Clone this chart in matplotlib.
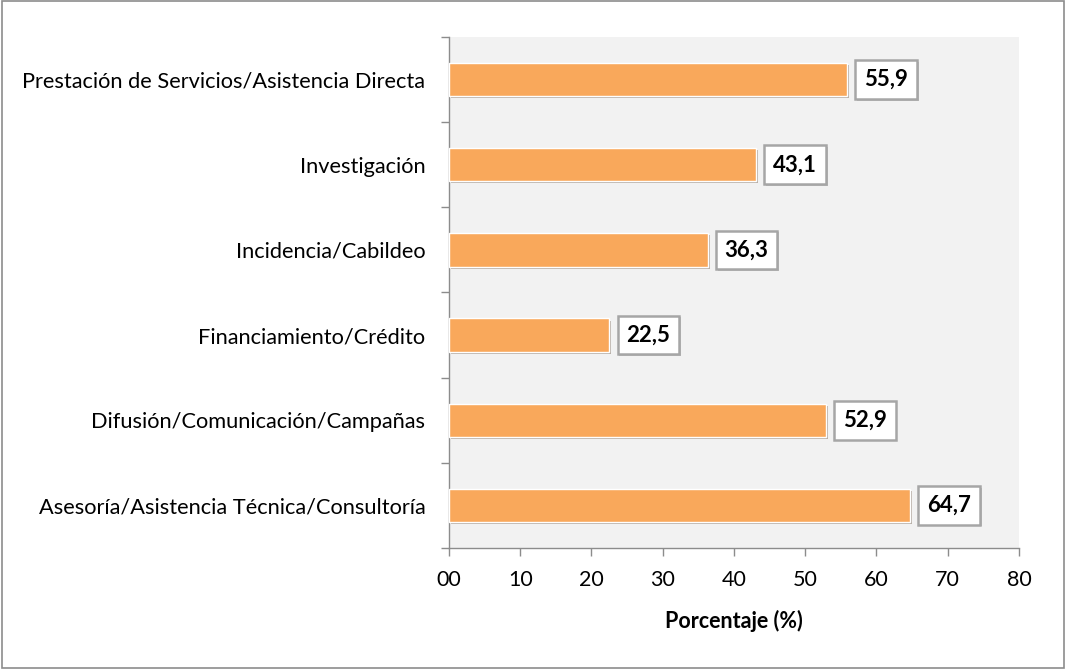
import matplotlib
matplotlib.use("Agg")
import matplotlib.pyplot as plt
import matplotlib.patheffects as pe
import numpy as np

categories = [
    "Asesoría/Asistencia Técnica/Consultoría",
    "Difusión/Comunicación/Campañas",
    "Financiamiento/Crédito",
    "Incidencia/Cabildeo",
    "Investigación",
    "Prestación de Servicios/Asistencia Directa",
]
values = [64.7, 52.9, 22.5, 36.3, 43.1, 55.9]
value_labels = ["64,7", "52,9", "22,5", "36,3", "43,1", "55,9"]
xticks = [0, 10, 20, 30, 40, 50, 60, 70, 80]
xtick_labels = ["00", "10", "20", "30", "40", "50", "60", "70", "80"]

plt.rcParams['font.family'] = ['Lato', 'DejaVu Sans']

fig = plt.figure(figsize=(10.66, 6.69), dpi=100)
fig.patch.set_facecolor("white")
border = plt.Rectangle((0.002, 0.002), 0.996, 0.996, transform=fig.transFigure,
                       fill=False, edgecolor="#8c8c8c", linewidth=1.2)
fig.patches.append(border)

ax = fig.add_axes([0.4212, 0.1809, 0.5347, 0.7638])
ax.set_facecolor("#f2f2f2")

y = np.arange(len(categories))
bars = ax.barh(y, values, height=0.39, color="#f9a85b", edgecolor="white",
               linewidth=1.0, zorder=3)
for b in bars:
    b.set_path_effects([pe.SimplePatchShadow(offset=(1.5, -1.5), alpha=0.35), pe.Normal()])

for yi, v, lab in zip(y, values, value_labels):
    t = ax.text(v + 2.4, yi, lab, va="center", ha="left", fontsize=16, fontweight="bold",
                color="black", zorder=5,
                bbox=dict(boxstyle="square,pad=0.4", facecolor="white", edgecolor="#a6a6a6",
                          linewidth=1.8))
    t.get_bbox_patch().set_path_effects([pe.SimplePatchShadow(offset=(1.2, -1.2), alpha=0.3), pe.Normal()])

ax.set_xlim(0, 80)
ax.set_ylim(-0.5, len(categories) - 0.5)
ax.set_xticks(xticks)
ax.set_xticklabels(xtick_labels, fontsize=15.5)
ax.set_yticks(y)
ax.set_yticklabels(categories, fontsize=15.7)
ax.tick_params(axis="y", length=0, pad=17)
ax.set_yticks(np.arange(-0.5, len(categories), 1.0), minor=True)
ax.tick_params(axis="y", which="minor", length=6, color="#8c8c8c", width=1)
ax.tick_params(axis="x", length=6, color="#8c8c8c", width=1, pad=10)

for s in ["top", "right"]:
    ax.spines[s].set_visible(False)
for s in ["left", "bottom"]:
    ax.spines[s].set_color("#8c8c8c")
    ax.spines[s].set_linewidth(1)

ax.set_xlabel("Porcentaje (%)", fontsize=15.5, fontweight="bold", labelpad=14)

fig.savefig("out.png", dpi=100)
